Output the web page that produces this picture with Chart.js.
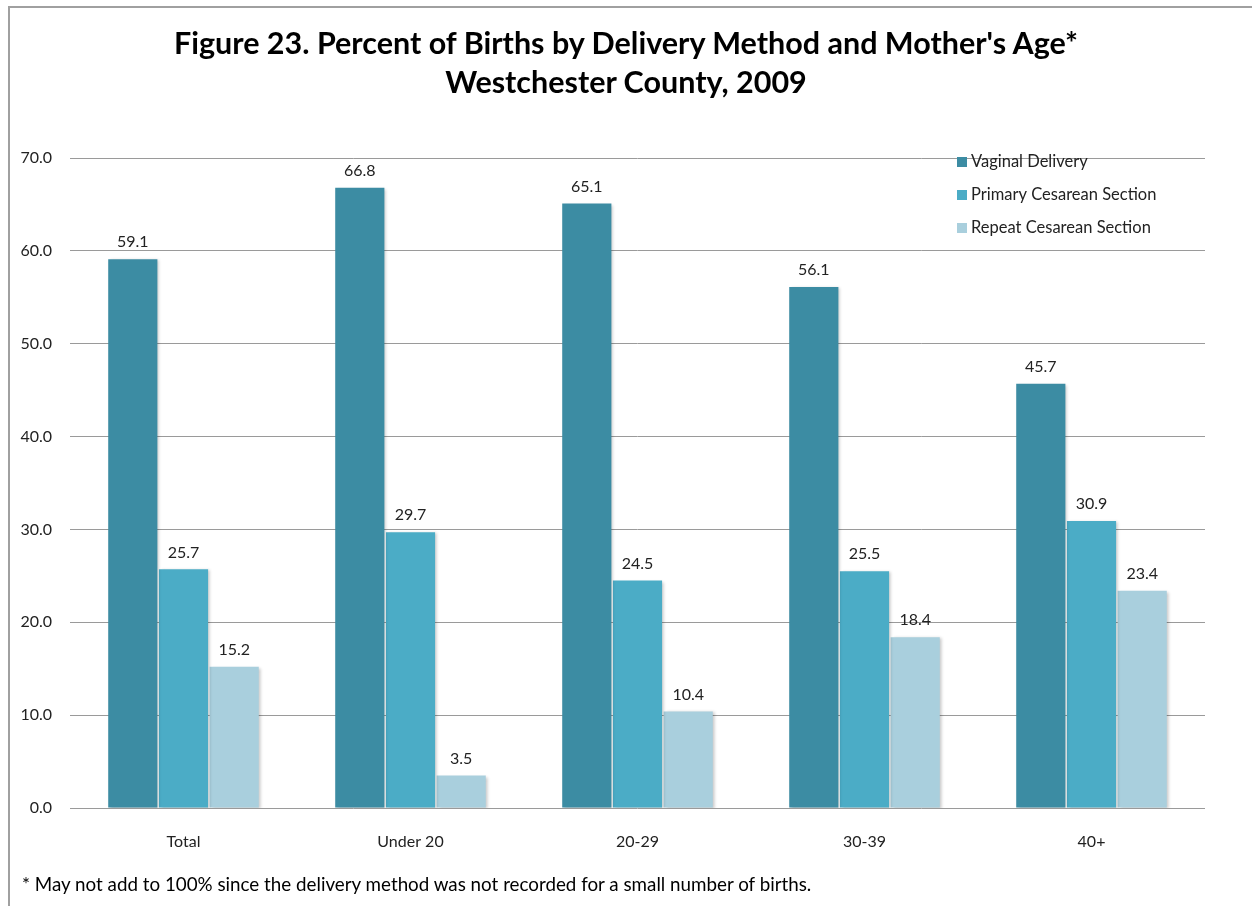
<!DOCTYPE html>
<html>
<head>
<meta charset="utf-8">
<script src="https://cdn.jsdelivr.net/npm/chart.js@4.4.1/dist/chart.umd.min.js"></script>
<style>
  body { margin: 0; background: #fff; }
  #wrap { position: relative; width: 1252px; height: 906px; overflow: hidden; }
  #frame { position: absolute; left: 8px; top: 6px; width: 1242px; height: 920px;
           border-top: 2px solid #a0a0a0; border-left: 2px solid #a0a0a0; border-right: 1px solid #d8d8d8; }
  #title { position: absolute; left: 0; top: 23px; width: 1252px; text-align: center;
           font-family: Lato, sans-serif; font-weight: bold; font-size: 30.5px; line-height: 39px; color: #000; }
  #note { position: absolute; left: 22px; top: 872px; font-family: Lato, sans-serif; font-size: 18.8px; color: #000; }
  canvas { position: absolute; left: 0; top: 0; }
</style>
</head>
<body>
<div id="wrap">
  <div id="frame"></div>
  <canvas id="chart" width="1252" height="906"></canvas>
  <div id="title">Figure 23. Percent of Births by Delivery Method and Mother's Age*<br>Westchester County, 2009</div>
  <div id="note">* May not add to 100% since the delivery method was not recorded for a small number of births.</div>
</div>
<script>
const ageGroups = ["Total", "Under 20", "20-29", "30-39", "40+"];
const vaginal = [59.1, 66.8, 65.1, 56.1, 45.7];
const primaryCesarean = [25.7, 29.7, 24.5, 25.5, 30.9];
const repeatCesarean = [15.2, 3.5, 10.4, 18.4, 23.4];

const font = "Lato, sans-serif";

// soft shadow on the right of the bars, like the original
const barShadow = {
    id: "barShadow",
    beforeDatasetsDraw(chart) {
        const ctx = chart.ctx;
        ctx.save();
        ctx.shadowColor = "rgba(0,0,0,0.22)";
        ctx.shadowOffsetX = 2;
        ctx.shadowOffsetY = 1;
        ctx.shadowBlur = 3;
    },
    afterDatasetsDraw(chart) {
        chart.ctx.restore();
    }
};

// value labels above each bar
const valueLabels = {
    id: "valueLabels",
    afterDraw(chart) {
        const ctx = chart.ctx;
        ctx.save();
        ctx.font = "16px " + font;
        ctx.fillStyle = "#222";
        ctx.textAlign = "center";
        ctx.textBaseline = "middle";
        chart.data.datasets.forEach((ds, i) => {
            chart.getDatasetMeta(i).data.forEach((bar, j) => {
                ctx.fillText(ds.data[j].toFixed(1), bar.x, bar.y - 17);
            });
        });
        ctx.restore();
    }
};

// legend inside the plot, top right
const cornerLegend = {
    id: "cornerLegend",
    afterDraw(chart) {
        const ctx = chart.ctx;
        ctx.save();
        ctx.font = "16.5px " + font;
        ctx.textBaseline = "middle";
        chart.data.datasets.forEach((ds, i) => {
            const y = 162 + i * 33;
            ctx.fillStyle = ds.backgroundColor;
            ctx.fillRect(957, y - 5, 10, 10);
            ctx.fillStyle = "#222";
            ctx.fillText(ds.label, 971, y);
        });
        ctx.restore();
    }
};

new Chart(document.getElementById("chart"), {
    type: "bar",
    data: {
        labels: ageGroups,
        datasets: [
            { label: "Vaginal Delivery", data: vaginal, backgroundColor: "#3c8ca3" },
            { label: "Primary Cesarean Section", data: primaryCesarean, backgroundColor: "#4bacc6" },
            { label: "Repeat Cesarean Section", data: repeatCesarean, backgroundColor: "#a9cfdd" }
        ]
    },
    options: {
        responsive: false,
        animation: false,
        layout: { padding: { left: 8, right: 47, top: 158, bottom: 48 } },
        datasets: { bar: { categoryPercentage: 0.67, barPercentage: 0.97 } },
        plugins: {
            legend: { display: false },
            tooltip: { enabled: false }
        },
        scales: {
            x: {
                grid: { display: false },
                border: { display: false },
                ticks: { color: "#222", font: { family: font, size: 16 }, padding: 16 },
                afterFit(scale) { scale.height = 50; }
            },
            y: {
                min: 0,
                max: 70,
                grid: { color: "#9a9a9a", lineWidth: 1, drawTicks: false },
                border: { display: false },
                ticks: {
                    stepSize: 10,
                    padding: 18,
                    color: "#222",
                    font: { family: font, size: 16 },
                    callback: v => v.toFixed(1)
                },
                afterFit(scale) { scale.width = 62; }
            }
        }
    },
    plugins: [barShadow, valueLabels, cornerLegend]
});
</script>
</body>
</html>
